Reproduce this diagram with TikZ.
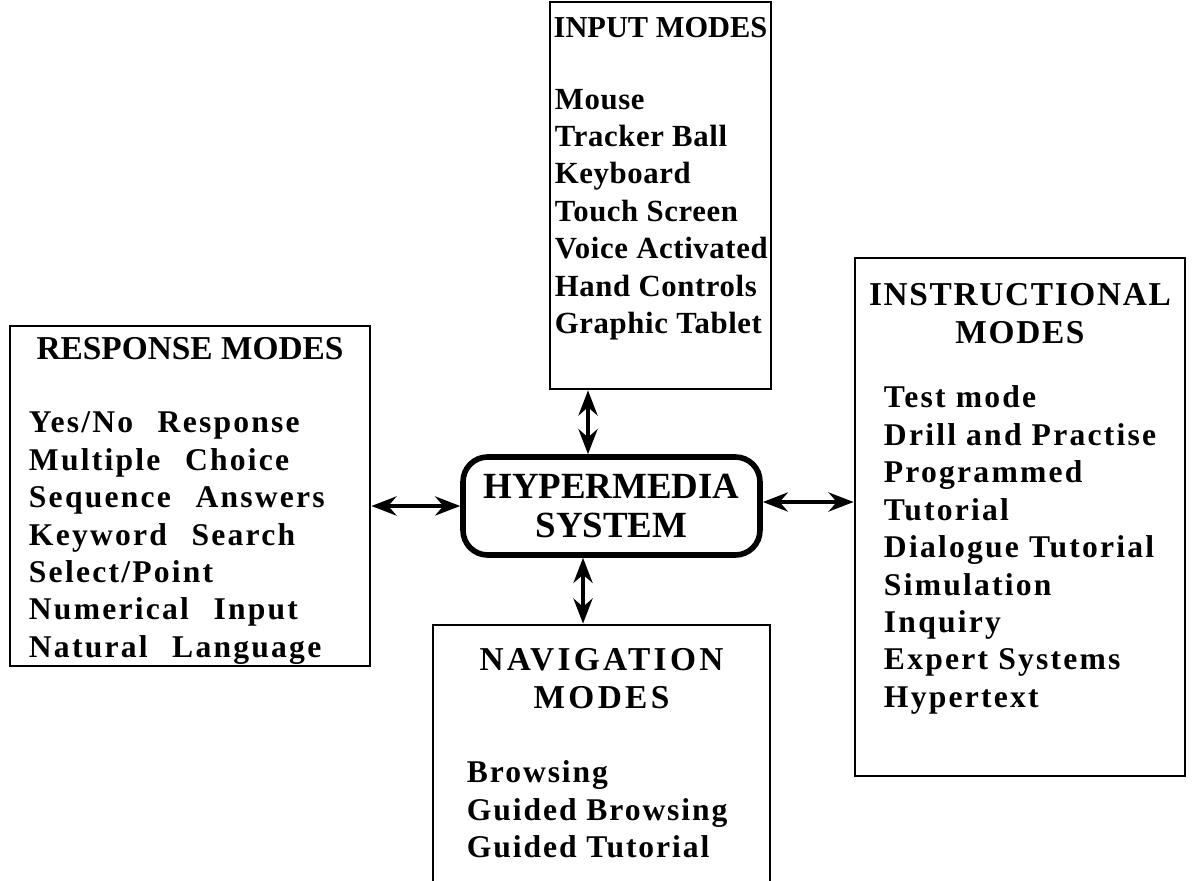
\documentclass[tikz,border=0pt]{standalone}
\usepackage{fontspec}
\setmainfont{Liberation Serif}
\usetikzlibrary{arrows.meta,positioning,calc}
\newcommand{\headfont}{\fontsize{19}{21.8}\selectfont\bfseries}
\newcommand{\itemfont}{\fontsize{18}{21.3}\selectfont\bfseries}
\newcommand{\hubfont}{\fontsize{21}{22.7}\selectfont\bfseries}
\newcommand{\widespace}{\spaceskip=14pt plus 2pt\relax}

\begin{document}
\begin{tikzpicture}[
  x=0.02cm, y=-0.02cm,
  frame/.style={draw, line width=1.6pt, inner sep=0pt},
  hub/.style={draw, line width=3.2pt, rounded corners=14pt, inner sep=0pt,
    align=center, font=\hubfont, minimum width=5.94cm, minimum height=1.96cm},
  head/.style={font=\headfont, align=center, inner sep=0pt},
  items/.style={font=\itemfont, align=left, inner sep=0pt, anchor=north west},
  link/.style={{Stealth[length=5mm,width=3.8mm]}-{Stealth[length=5mm,width=3.8mm]}, line width=2.6pt}
]
\useasboundingbox (0,0) rectangle (1199,881);
% the five boxes
\node[frame, minimum width=4.42cm, minimum height=7.74cm] (input) at (660.5,195.5) {};
\node[frame, minimum width=7.2cm, minimum height=6.8cm] (response) at (190,496) {};
\node[frame, minimum width=6.74cm, minimum height=5.6cm] (navigation) at (601.5,765) {};
\node[frame, minimum width=6.6cm, minimum height=10.36cm] (instruction) at (1020,517) {};
\node[hub] (hyper) at (611.5,506) {HYPERMEDIA\\SYSTEM};
% headings
\node[head, font=\headfont\fontsize{17.3}{20}\selectfont, below=0.32cm of input.north] (inputhead) {INPUT MODES};
\node[head, below=0.24cm of response.north] (responsehead) {RESPONSE MODES};
\node[head, font=\headfont\addfontfeatures{LetterSpace=10}, below=0.48cm of navigation.north] (navigationhead) {NAVIGATION\\MODES};
\node[head, font=\headfont\addfontfeatures{LetterSpace=5}, below=0.52cm of instruction.north] (instructionhead) {INSTRUCTIONAL\\MODES};
% lists
\node[items, font=\itemfont\fontsize{17.5}{21.3}\selectfont\addfontfeatures{LetterSpace=2}] (inputlist) at ([shift={(6,88)}]input.north west)
  {Mouse\\Tracker Ball\\Keyboard\\Touch Screen\\Voice Activated\\Hand Controls\\Graphic Tablet};
\node[items, font=\itemfont\addfontfeatures{LetterSpace=7}\widespace] (responselist) at ([shift={(20,87)}]response.north west)
  {Yes/No Response\\Multiple Choice\\Sequence Answers\\Keyword Search\\Select/Point\\Numerical Input\\Natural Language};
\node[items, font=\itemfont\addfontfeatures{LetterSpace=6}] (navigationlist) at ([shift={(35,137)}]navigation.north west)
  {Browsing\\Guided Browsing\\Guided Tutorial};
\node[items, font=\itemfont\addfontfeatures{LetterSpace=7}] (instructionlist) at ([shift={(30,129)}]instruction.north west)
  {Test mode\\Drill and Practise\\Programmed\\Tutorial\\Dialogue Tutorial\\Simulation\\Inquiry\\Expert Systems\\Hypertext};
% connectors
\coordinate (uplink) at ([xshift=-0.47cm]hyper.north);
\coordinate (downlink) at ([xshift=-0.57cm]hyper.south);
\coordinate (rightlink) at ([yshift=0.08cm]hyper.east);
\draw[link] (uplink |- input.south) -- (uplink);
\draw[link] (downlink) -- (downlink |- navigation.north);
\draw[link] (response.east |- hyper.west) -- (hyper.west);
\draw[link] (rightlink) -- (rightlink -| instruction.west);
\end{tikzpicture}
\end{document}
